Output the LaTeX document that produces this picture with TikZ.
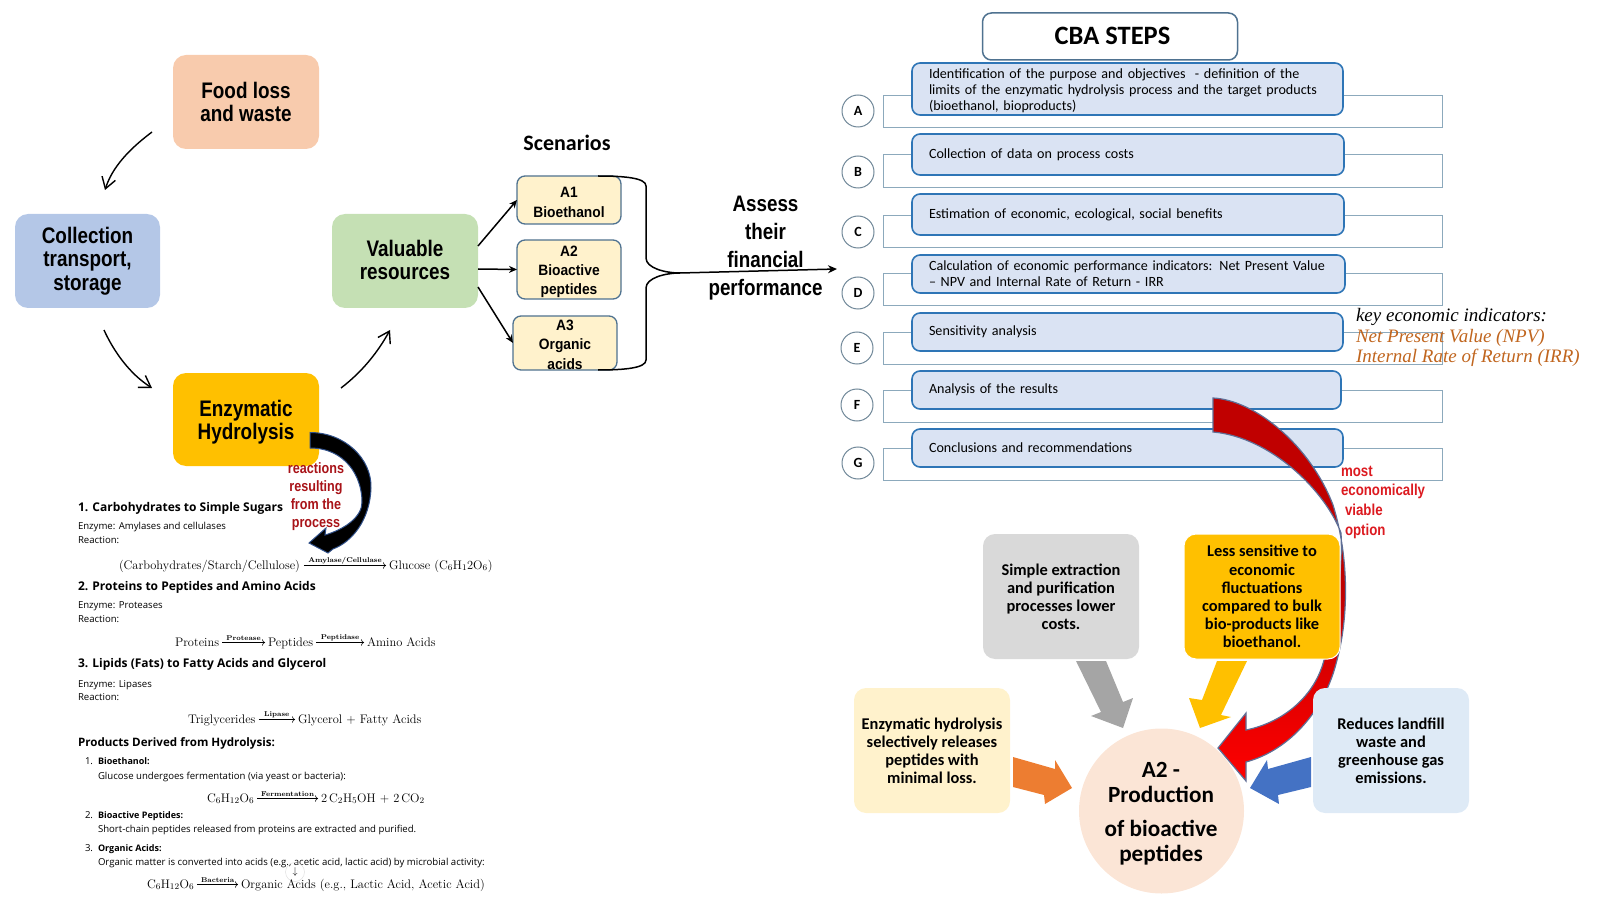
\RequirePackage{fix-cm}
\documentclass[tikz,border=0pt]{standalone}
\usepackage{fontspec}
\usepackage{amsmath}
\usetikzlibrary{arrows.meta}
\newfontfamily\nar[FakeStretch=0.84]{Liberation Sans}
\newfontfamily\narw[FakeStretch=0.92]{Liberation Sans}
\newfontfamily\car{Carlito}
\newfontfamily\lser{Liberation Serif}
\newfontfamily\ops{Open Sans}
\definecolor{cfood}{HTML}{F8CBAD}
\definecolor{ccoll}{HTML}{B4C7E7}
\definecolor{cval}{HTML}{C5E0B4}
\definecolor{cenz}{HTML}{FFC000}
\definecolor{ccream}{HTML}{FFF2CC}
\definecolor{cedge}{HTML}{4F7290}
\definecolor{cstep}{HTML}{DAE3F3}
\definecolor{cstepe}{HTML}{2E75B6}
\definecolor{crect}{HTML}{8CA9BC}
\definecolor{cring}{HTML}{6F8798}
\definecolor{cgray}{HTML}{D9D9D9}
\definecolor{cpale}{HTML}{DEEAF6}
\definecolor{cpeach}{HTML}{FBE5D6}
\definecolor{agray}{HTML}{A5A5A5}
\definecolor{aorange}{HTML}{ED7D31}
\definecolor{ablue}{HTML}{4472C4}
\definecolor{cbrown}{HTML}{C0651E}
\definecolor{cdred}{HTML}{A81318}
\definecolor{clred}{HTML}{DC1A20}
\definecolor{rdark}{HTML}{C00000}
\definecolor{routl}{HTML}{5F6F96}
\newcommand{\fsz}[2]{\fontsize{#1}{#2}\selectfont}
\tikzset{
  every node/.style={inner sep=0pt,outer sep=0pt},
  bigbox/.style={rounded corners=13pt,align=center,font=\nar\bfseries\fsz{22.5}{23.6}},
  scen/.style={draw=cedge,line width=1.3pt,fill=ccream,rounded corners=8pt,align=center,font=\narw\bfseries\fsz{15}{19.4}},
  outl/.style={draw=crect,line width=1pt},
  stepbox/.style={draw=cstepe,line width=1.6pt,fill=cstep,rounded corners=8pt,align=left,inner xsep=17pt,font=\car\fsz{14.1}{16.3}},
  ring/.style={draw=cring,line width=1pt,fill=white,circle,minimum size=32pt,font=\car\bfseries\fsz{14}{16}},
  softbox/.style={rounded corners=12pt,align=center,font=\car\bfseries\fsz{16.4}{18.1},minimum width=156pt,minimum height=125pt},
  thinarr/.style={-{Straight Barb[length=11pt,width=14pt]},line width=1.4pt,black},
  solidarr/.style={-{Stealth[length=8pt,width=7pt]},line width=1.5pt,black},
  lhead/.style={anchor=base west,font=\ops\bfseries\fsz{12}{13}},
  lbody/.style={anchor=base west,font=\ops\fsz{9.6}{10}},
  lsub/.style={anchor=base west,font=\ops\bfseries\fsz{9}{10}},
  leq/.style={anchor=base west,font=\fsz{12.4}{14}},
  eqarr/.style={-{To[length=3pt]},line width=.55pt,black},
  eqlab/.style={midway,above=1.5pt,font=\bfseries\fsz{7}{8}},
}
\begin{document}
\begin{tikzpicture}[x=1pt,y=-1pt]
\useasboundingbox (0,0) rectangle (1609,909);
% left flow
\node[bigbox,fill=cfood,minimum width=146pt,minimum height=94pt] (food) at (246,102) {Food loss\\and waste};
\node[bigbox,fill=ccoll,minimum width=145pt,minimum height=94pt] (coll) at (87.5,261) {\rule{0pt}{2pt}Collection\\transport,\\storage};
\node[bigbox,fill=cval,minimum width=146pt,minimum height=94pt] (val) at (405,261) {Valuable\\resources\rule[-2pt]{0pt}{2pt}};
\node[bigbox,fill=cenz,minimum width=146pt,minimum height=93pt] (enz) at (246,419.5) {\rule{0pt}{22pt}Enzymatic\\Hydrolysis};
\coordinate (t1) at (152,132); \coordinate (t2) at (105,190);
\coordinate (t3) at (104,330); \coordinate (t4) at (152,388);
\coordinate (t5) at (341,388); \coordinate (t6) at (390,330);
\draw[thinarr] (t1) .. controls (128,150) and (112,168) .. (t2);
\draw[thinarr] (t3) .. controls (114,352) and (130,374) .. (t4);
\draw[thinarr] (t5) .. controls (362,372) and (378,352) .. (t6);
% scenarios
\node[font=\car\bfseries\fsz{22}{24}] (scn) at (567,143) {Scenarios};
\node[scen,minimum width=104pt,minimum height=48pt] (a1) at (569,200) {\rule{0pt}{15pt}A1\\Bioethanol};
\node[scen,minimum width=104pt,minimum height=59pt] (a2) at (569,269.5) {\rule{0pt}{15pt}A2\\Bioactive\\peptides};
\node[scen,minimum width=104pt,minimum height=54pt] (a3) at (565,343) {\rule{0pt}{14pt}A3\\Organic\\acids};
\draw[solidarr] ([yshift=15pt]val.east) -- (a1.west);
\draw[solidarr] ([yshift=-8pt]val.east) -- (a2.west);
\draw[solidarr] ([yshift=-26pt]val.east) -- (a3.west);
\coordinate (br1) at (598,176); \coordinate (br2) at (598,370);
\coordinate (brm) at (680,273); \coordinate (ba) at (837,269);
\draw[line width=1.5pt,black] (br1) .. controls (625,176) and (646,178) .. (646,186) -- (646,258) .. controls (646,268) and (665,273) .. (brm);
\draw[line width=1.5pt,black] (br2) .. controls (625,370) and (646,368) .. (646,360) -- (646,288) .. controls (646,278) and (665,273) .. (brm);
\draw[-{Stealth[length=9pt,width=8pt]},line width=1.5pt,black] (brm) -- (ba);
\node[align=center,font=\nar\bfseries\fsz{22.4}{28}] (assess) at (765.5,248) {Assess\\their\\financial\\performance};
% equations and text
\node[lhead] (h1) at (78,511.6) {1. Carbohydrates to Simple Sugars};
\node[lbody] (e1) at (78,529) {Enzyme: Amylases and cellulases};
\node[lbody] (r1) at (78,543) {Reaction:};
\node[leq] (q1a) at (119,569) {(Carbohydrates/Starch/Cellulose)};
\node[leq] (q1b) at (389,569) {Glucose (C$_6$H$_12$O$_6$)};
\draw[eqarr] ([shift={(4pt,3.5pt)}]q1a.base east) -- node[eqlab] (l1) {Amylase/Cellulase} ([shift={(-3pt,3.5pt)}]q1b.base west);
\node[lhead] (h2) at (78,590.5) {2. Proteins to Peptides and Amino Acids};
\node[lbody] (e2) at (78,608) {Enzyme: Proteases};
\node[lbody] (r2) at (78,622) {Reaction:};
\node[leq] (q2a) at (175,646) {Proteins};
\node[leq] (q2b) at (268,646) {Peptides};
\node[leq] (q2c) at (367,646) {Amino Acids};
\draw[eqarr] ([shift={(3pt,3.5pt)}]q2a.base east) -- node[eqlab] (l2) {Protease} ([shift={(-3pt,3.5pt)}]q2b.base west);
\draw[eqarr] ([shift={(3pt,3.5pt)}]q2b.base east) -- node[eqlab] (l3) {Peptidase} ([shift={(-3pt,3.5pt)}]q2c.base west);
\node[lhead] (h3) at (78,667.5) {3. Lipids (Fats) to Fatty Acids and Glycerol};
\node[lbody] (e3) at (78,687) {Enzyme: Lipases};
\node[lbody] (r3) at (78,700) {Reaction:};
\node[leq] (q3a) at (188,723) {Triglycerides};
\node[leq] (q3b) at (298,723) {Glycerol + Fatty Acids};
\draw[eqarr] ([shift={(3pt,3.5pt)}]q3a.base east) -- node[eqlab] (l4) {Lipase} ([shift={(-3pt,3.5pt)}]q3b.base west);
\node[lhead,font=\ops\bfseries\fsz{11.6}{13}] (h4) at (78,746.4) {Products Derived from Hydrolysis:};
\node[lbody] (n1) at (85,764.5) {1.};
\node[lsub] (p1) at (98,764.5) {Bioethanol:};
\node[lbody] (b1) at (98,779) {Glucose undergoes fermentation (via yeast or bacteria):};
\node[leq] (q4a) at (207,802) {C$_6$H$_{12}$O$_6$};
\node[leq] (q4b) at (321,802) {2\,C$_2$H$_5$OH + 2\,CO$_2$};
\draw[eqarr] ([shift={(3pt,3.5pt)}]q4a.base east) -- node[eqlab] (l5) {Fermentation} ([shift={(-3pt,3.5pt)}]q4b.base west);
\node[lbody] (n2) at (85,818) {2.};
\node[lsub] (p2) at (98,818) {Bioactive Peptides:};
\node[lbody] (b2) at (98,832.5) {Short-chain peptides released from proteins are extracted and purified.};
\node[lbody] (n3) at (85,851) {3.};
\node[lsub] (p3) at (98,851) {Organic Acids:};
\node[lbody] (b3) at (98,865) {Organic matter is converted into acids (e.g., acetic acid, lactic acid) by microbial activity:};
\node[circle,draw=black!12,line width=.5pt,minimum size=19pt,font=\fsz{10}{10}] (dn) at (295,872) {$\downarrow$};
\node[leq] (q5a) at (147,888) {C$_6$H$_{12}$O$_6$};
\node[leq] (q5b) at (241,888) {Organic Acids (e.g., Lactic Acid, Acetic Acid)};
\draw[eqarr] ([shift={(3pt,3.5pt)}]q5a.base east) -- node[eqlab] (l6) {Bacteria} ([shift={(-3pt,3.5pt)}]q5b.base west);
% black curved arrow
\path[fill=black,draw=ablue!70!black,line width=1pt] (310,432.5) .. controls (345,432.5) and (372,459) .. (371,488) .. controls (370,520) and (352,542) .. (333,549) -- (328,553) -- (309,543) -- (326,528) -- (325,535) .. controls (345,529) and (362,517) .. (362,502) .. controls (362,476) and (345,448) .. (310,448) -- cycle;
\node[align=center,text=cdred,font=\nar\bfseries\fsz{15}{18}] (react) at (316,497) {reactions\\resulting\\from the\\process};
% CBA
\node[draw=cedge,line width=1.5pt,fill=white,rounded corners=9pt,minimum width=255pt,minimum height=47pt,font=\car\bfseries\fsz{26.5}{28}] (title) at (1110,36.5) {\hspace*{5pt}\raisebox{2pt}{CBA STEPS}};
\node[outl,minimum width=559pt,minimum height=32pt] (ra) at (1163,112) {};
\node[outl,minimum width=559pt,minimum height=33pt] (rb) at (1163,171.5) {};
\node[outl,minimum width=559pt,minimum height=32pt] (rc) at (1163,232) {};
\node[outl,minimum width=559pt,minimum height=32pt] (rd) at (1163,290) {};
\node[outl,minimum width=559pt,minimum height=32pt] (re) at (1163,348) {};
\node[outl,minimum width=559pt,minimum height=32pt] (rf) at (1163,406) {};
\node[outl,minimum width=559pt,minimum height=32pt] (rg) at (1163,464) {};
\node[stepbox,text width=397pt,minimum height=52pt] (sa) at (1127.5,89) {\rule{0pt}{13pt}Identification of the purpose and objectives\ \ - definition of the\\limits of the enzymatic hydrolysis process and the target products\\(bioethanol, bioproducts)};
\node[stepbox,text width=398pt,minimum height=41pt] (sb) at (1128,154.5) {Collection of data on process costs};
\node[stepbox,text width=398pt,minimum height=41pt] (sc) at (1128,214.5) {Estimation of economic, ecological, social benefits};
\node[stepbox,text width=399pt,minimum height=38pt] (sd) at (1128.5,274) {Calculation of economic performance indicators: Net Present Value\\– NPV and Internal Rate of Return - IRR};
\node[stepbox,text width=397pt,minimum height=38pt] (se) at (1127.5,332) {Sensitivity analysis};
\node[stepbox,text width=395pt,minimum height=38pt] (sf) at (1126.5,390) {Analysis of the results};
\node[stepbox,text width=397pt,minimum height=38pt] (sg) at (1127.5,448) {Conclusions and recommendations};
\node[ring] (ca) at (858,111) {A};
\node[ring] (cb) at (858,172) {B};
\node[ring] (cc) at (858,232) {C};
\node[ring] (cd) at (858,293) {D};
\node[ring] (ce) at (857,348) {E};
\node[ring] (cf) at (857,405) {F};
\node[ring] (cg) at (858,463) {G};
\node[anchor=base west,font=\lser\itshape\fsz{19}{20}] (k1) at (1356,321) {key economic indicators:};
\node[anchor=base west,text=cbrown,font=\lser\itshape\fsz{19}{20}] (k2) at (1356,342.5) {Net Present Value (NPV)};
\node[anchor=base west,text=cbrown,font=\lser\itshape\fsz{19}{20}] (k3) at (1356,362) {Internal Rate of Return (IRR)};
% red arrow
\path[top color=rdark,bottom color=red,middle color=rdark,draw=routl,line width=1.2pt] (1213,398) .. controls (1255,400) and (1310,445) .. (1333,505) .. controls (1350,560) and (1348,620) .. (1337,660) .. controls (1325,710) and (1290,750) .. (1246,762) -- (1246,781) -- (1218,748) -- (1246,713) -- (1246,730) .. controls (1285,722) and (1315,695) .. (1324,660) .. controls (1335,620) and (1343,570) .. (1341,533) .. controls (1325,490) and (1270,437) .. (1213,432) -- cycle;
\node[align=left,anchor=north west,text=clred,font=\nar\bfseries\fsz{15.8}{19.6}] (viab) at (1341,466) {most\\economically\\\hspace*{4pt}viable\\\hspace*{4pt}option};
% benefits
\node[softbox,fill=cgray] (bg) at (1061,596.5) {Simple extraction\\and purification\\processes lower\\costs.};
\node[softbox,fill=cenz,draw=white,line width=1pt] (by) at (1262,596.5) {Less sensitive to\\economic\\fluctuations\\compared to bulk\\bio-products like\\bioethanol.};
\node[softbox,fill=ccream] (bc) at (932,750.5) {Enzymatic hydrolysis\\selectively releases\\peptides with\\minimal loss.};
\node[softbox,fill=cpale] (bb) at (1391,750.5) {Reduces landfill\\waste and\\greenhouse gas\\emissions.};
\node[circle,fill=cpeach,minimum size=165pt] (goal) at (1161.5,811) {};
\node[align=center,font=\car\bfseries\fsz{23.2}{25}] (g1) at (1161,782.5) {A2 -\\Production};
\node[align=center,font=\car\bfseries\fsz{23.2}{25}] (g2) at (1161,843) {of bioactive\\peptides};
\fill[agray] (1076,661) -- (1106,661) -- (1123,702) -- (1133,698) -- (1123,728) -- (1091,716) -- (1101,712) -- cycle;
\fill[cenz] (1217,661) -- (1247,661) -- (1221,715) -- (1231,717) -- (1200,728) -- (1189,698) -- (1202,700) -- cycle;
\fill[aorange] (1013,757) -- (1055,769) -- (1055,760) -- (1072,788) -- (1045,804) -- (1044,795) -- (1013,787) -- cycle;
\fill[ablue] (1311,757) -- (1268,769) -- (1267,760) -- (1250,788) -- (1279,804) -- (1278,795) -- (1311,787) -- cycle;
\end{tikzpicture}
\end{document}
